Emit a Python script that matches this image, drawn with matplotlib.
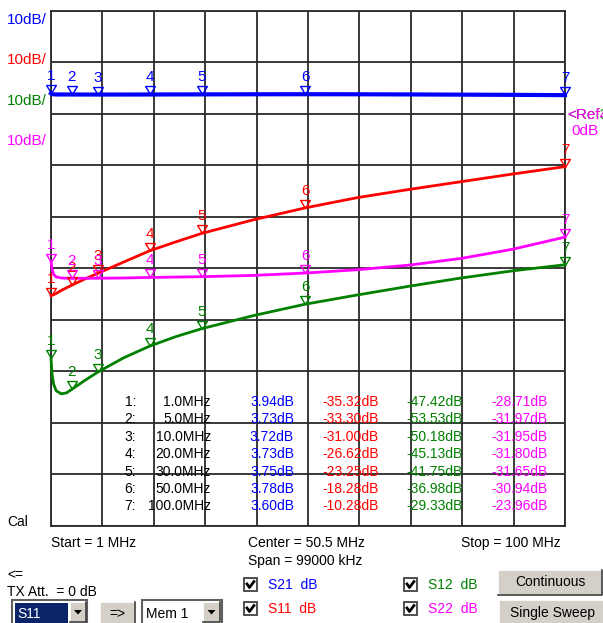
import numpy as np
import matplotlib
matplotlib.use("Agg")
import matplotlib.pyplot as plt
from matplotlib.transforms import Affine2D
from matplotlib.patches import Rectangle, Polygon
from matplotlib.lines import Line2D
from matplotlib.path import Path
from matplotlib.markers import MarkerStyle

plt.rcParams['font.family'] = ['Liberation Sans', 'DejaVu Sans']

W, H = 603, 623

# sweep points (MHz)
freq = [1, 1.2, 1.5, 2, 3, 4, 5, 7.5, 10, 15, 20, 25, 30, 40, 50, 60, 70, 80, 90, 100]
s21 = [3.94, 3.80, 3.76, 3.74, 3.73, 3.73, 3.73, 3.72, 3.72, 3.72, 3.73, 3.74, 3.75, 3.77, 3.78, 3.77, 3.74, 3.70, 3.66, 3.60]
s11 = [-35.32, -35.25, -35.15, -34.9, -34.3, -33.8, -33.30, -32.1, -31.00, -28.8, -26.62, -24.9, -23.25, -20.6, -18.28,
       -16.3, -14.7, -13.2, -11.7, -10.28]
s12 = [-47.42, -50.5, -52.5, -53.8, -54.4, -54.2, -53.53, -51.8, -50.18, -47.4, -45.13, -43.3, -41.75, -39.2, -36.98,
       -35.2, -33.5, -31.9, -30.5, -29.33]
s22 = [-28.71, -30.2, -31.2, -31.7, -31.9, -31.95, -31.97, -31.96, -31.95, -31.9, -31.80, -31.72, -31.65, -31.4, -30.94,
       -30.3, -29.4, -28.1, -26.3, -23.96]

# markers
mk_freq = [1, 5, 10, 20, 30, 50, 100]
mk_s21 = [3.94, 3.73, 3.72, 3.73, 3.75, 3.78, 3.60]
mk_s11 = [-35.32, -33.30, -31.00, -26.62, -23.25, -18.28, -10.28]
mk_s12 = [-47.42, -53.53, -50.18, -45.13, -41.75, -36.98, -29.33]
mk_s22 = [-28.71, -31.97, -31.95, -31.80, -31.65, -30.94, -23.96]

BLUE, RED, GREEN, MAG = '#0000ff', '#ff0000', '#008000', '#ff00ff'

fig = plt.figure(figsize=(W / 100, H / 100), dpi=100)
fig.patch.set_facecolor('white')
px = Affine2D().scale(1 / W, -1 / H).translate(0, 1) + fig.transFigure

x0, x1, y0, y1 = 51, 565, 10.7, 525.7
ax = fig.add_axes([x0 / W, 1 - y1 / H, (x1 - x0) / W, (y1 - y0) / H])
ax.set_xlim(1, 100)
ax.set_ylim(-80, 20)
ax.set_xticks(np.linspace(1, 100, 11))
ax.set_yticks(np.arange(-80, 21, 10))
ax.tick_params(length=0, labelbottom=False, labelleft=False)
ax.grid(True, color='#2a2a2a', lw=1.3)
for s in ax.spines.values():
    s.set_color('#2a2a2a')
    s.set_linewidth(1.3)
ax.set_facecolor('white')

# down-pointing open triangle with apex on the point
tri = MarkerStyle(Path([(-0.55, 0.9), (0.55, 0.9), (0, 0), (-0.55, 0.9)],
                       [Path.MOVETO, Path.LINETO, Path.LINETO, Path.CLOSEPOLY]))

traces = [(s21, mk_s21, BLUE, 3.0), (s11, mk_s11, RED, 2.0), (s12, mk_s12, GREEN, 2.0), (s22, mk_s22, MAG, 2.0)]
for vals, mvals, col, lw in traces:
    ax.plot(freq, vals, color=col, lw=lw, clip_on=False, zorder=3)
    ax.plot(mk_freq, mvals, ls='none', marker=tri, ms=11.5, mfc='none', mec=col, mew=1.0,
            clip_on=False, zorder=4)
    for i, (f, v) in enumerate(zip(mk_freq, mvals)):
        ax.annotate(str(i + 1), (f, v), xytext=(0, 7.2), textcoords='offset points',
                    ha='center', va='bottom', color=col, fontsize=11, zorder=5,
                    annotation_clip=False)


def t(x, y, s, **kw):
    kw.setdefault('fontsize', 10)
    kw.setdefault('va', 'center')
    fig.text(x, y, s, transform=px, **kw)


# scale labels
for y, col in zip([20, 60, 101, 141], [BLUE, RED, GREEN, MAG]):
    t(47, y, '10dB/', color=col, fontsize=11, ha='right')
t(567, 115, '<Ref3', color=GREEN, fontsize=11)
t(567, 115, '<Ref4', color=MAG, fontsize=11)
t(571, 131, '0dB', color=MAG, fontsize=11)
t(7, 522, 'Cal')

# marker readout table
idx_lbl = ['1:', '2:', '3:', '4:', '5:', '6:', '7:']
freq_lbl = ['1.0MHz', '5.0MHz', '10.0MHz', '20.0MHz', '30.0MHz', '50.0MHz', '100.0MHz']
for i in range(7):
    y = 402 + i * 17.4
    t(136, y, idx_lbl[i], ha='right', color='black')
    t(211, y, freq_lbl[i], ha='right', color='black')
    t(294, y, '%.2fdB' % mk_s21[i], ha='right', color=BLUE)
    t(379, y, '%.2fdB' % mk_s11[i], ha='right', color=RED)
    t(463, y, '%.2fdB' % mk_s12[i], ha='right', color=GREEN)
    t(548, y, '%.2fdB' % mk_s22[i], ha='right', color=MAG)

# sweep info
t(51, 543, 'Start = 1 MHz')
t(248, 543, 'Center = 50.5 MHz')
t(248, 561, 'Span = 99000 kHz')
t(461, 543, 'Stop = 100 MHz')
t(7, 575, '<=')
t(7, 592, 'TX Att.  = 0 dB')


def rect(x, y, w, h, fc, ec='none', lw=0.0, z=1):
    fig.add_artist(Rectangle((x, y), w, h, transform=px, fc=fc, ec=ec, lw=lw, zorder=z))


def button(x, y, w, h):
    rect(x, y, w, h, '#d4d0c8', z=1)
    fig.add_artist(Line2D([x, x, x + w], [y + h, y, y], transform=px, color='white', lw=1.2, zorder=2))
    fig.add_artist(Line2D([x, x + w, x + w], [y + h, y + h, y], transform=px, color='#404040', lw=1.2, zorder=2))


def down_arrow(cx, cy):
    fig.add_artist(Polygon([(cx - 4, cy - 2), (cx + 4, cy - 2), (cx, cy + 2.5)], closed=True, transform=px,
                           fc='black', ec='none', zorder=3))


def checkbox(x, y, label, col):
    rect(x, y, 13, 13, 'white', ec='#404040', lw=1.3, z=2)
    fig.add_artist(Line2D([x + 3, x + 5.5, x + 10], [y + 6, y + 9.5, y + 3.5], transform=px,
                          color='black', lw=2.0, zorder=3))
    t(x + 24, y + 7, label, color=col)


# S11 selector
rect(12, 600, 75, 30, 'white', ec='#606060', lw=1.5)
rect(15, 603, 53, 20, '#0a246a')
t(17, 614, 'S11', color='white')
button(70, 602, 16, 20)
down_arrow(78, 612)

button(100, 602, 35, 22)
t(117.5, 614, '=>', ha='center')

rect(142, 600, 80, 30, 'white', ec='#606060', lw=1.5)
t(146, 614, 'Mem 1')
button(203, 602, 17, 20)
down_arrow(211.5, 612)

checkbox(244, 578, 'S21  dB', BLUE)
checkbox(244, 602, 'S11  dB', RED)
checkbox(404, 578, 'S12  dB', GREEN)
checkbox(404, 602, 'S22  dB', MAG)

button(498, 570, 104, 25)
t(550, 582.5, 'Continuous', ha='center')
button(499, 600, 110, 28)
t(552, 613, 'Single Sweep', ha='center')

fig.savefig('out.png', dpi=100, facecolor='white')
